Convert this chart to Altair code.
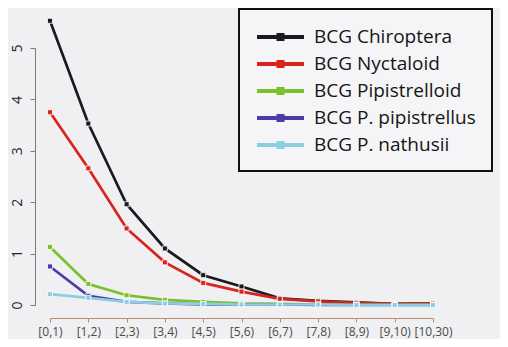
import altair as alt
import pandas as pd

bins = ["[0,1)", "[1,2)", "[2,3)", "[3,4)", "[4,5)", "[5,6)", "[6,7)", "[7,8)", "[8,9)", "[9,10)", "[10,30)"]
series = ["BCG Chiroptera", "BCG Nyctaloid", "BCG Pipistrelloid", "BCG P. pipistrellus", "BCG P. nathusii"]
chiroptera = [5.53, 3.53, 1.96, 1.10, 0.58, 0.36, 0.13, 0.08, 0.05, 0.02, 0.03]
nyctaloid = [3.75, 2.66, 1.49, 0.83, 0.43, 0.26, 0.12, 0.07, 0.04, 0.02, 0.03]
pipistrelloid = [1.13, 0.41, 0.19, 0.10, 0.06, 0.03, 0.02, 0.01, 0.01, 0.01, 0.01]
pipistrellus = [0.75, 0.18, 0.06, 0.03, 0.01, 0.01, 0.01, 0.00, 0.00, 0.00, 0.00]
nathusii = [0.21, 0.14, 0.06, 0.03, 0.02, 0.01, 0.01, 0.01, 0.00, 0.00, 0.00]
colors = ["#1c1a1e", "#d8241e", "#7cc02c", "#4a3ca8", "#8ccfe2"]

rows = []
for name, vals in zip(series, [chiroptera, nyctaloid, pipistrelloid, pipistrellus, nathusii]):
    for b, v in zip(bins, vals):
        rows.append({"bin": b, "series": name, "value": v})
df = pd.DataFrame(rows)

x_enc = alt.X("bin:N", sort=bins, title=None,
              scale=alt.Scale(type="point", padding=0),
              axis=alt.Axis(labelAngle=0, labelFontSize=12, labelColor="#4a4a4a", labelFont="Open Sans",
                            domainColor="#b98a74", tickColor="#b98a74", tickSize=4, offset=13,
                            labelPadding=4, grid=False))
y_enc = alt.Y("value:Q", title=None,
              scale=alt.Scale(domain=[0, 5], nice=False),
              axis=alt.Axis(values=[0, 1, 2, 3, 4, 5], labelAngle=270, labelFontSize=14,
                            labelColor="#222222", labelFont="Open Sans",
                            domainColor="#7a7a7a", tickColor="#7a7a7a", tickSize=5, offset=15,
                            labelPadding=6, grid=False))

legend = alt.Legend(title=None, orient="none", legendX=189, legendY=-39,
                    strokeColor="#111111", fillColor="#f5f5f7", padding=16,
                    labelFont="Open Sans", labelFontSize=19, labelColor="#151515", labelLimit=400,
                    symbolType="M-1,0H3.7M1.15,-0.2H1.55V0.2H1.15Z", symbolSize=400,
                    symbolStrokeWidth=4, labelOffset=35, rowPadding=5)

line = alt.Chart(df).mark_line(strokeWidth=2.7).encode(
    x=x_enc, y=y_enc,
    color=alt.Color("series:N", sort=series, scale=alt.Scale(domain=series, range=colors), legend=legend),
    detail="series:N",
)
pts = alt.Chart(df).mark_point(shape="square", size=25, filled=True, stroke="white",
                               strokeWidth=0.8, opacity=1).encode(
    x=x_enc, y=y_enc,
    fill=alt.Fill("series:N", sort=series, scale=alt.Scale(domain=series, range=colors), legend=None),
)

chart = alt.layer(line, pts).properties(
    width=383, height=257,
    autosize=alt.AutoSizeParams(type="none"),
    padding={"left": 42, "top": 40, "right": 67, "bottom": 34},
    background="#f0f0f2",
).configure_view(stroke=None).configure_legend(strokeWidth=2)

chart.save("out.html", embed_options={"renderer": "svg", "actions": False})
